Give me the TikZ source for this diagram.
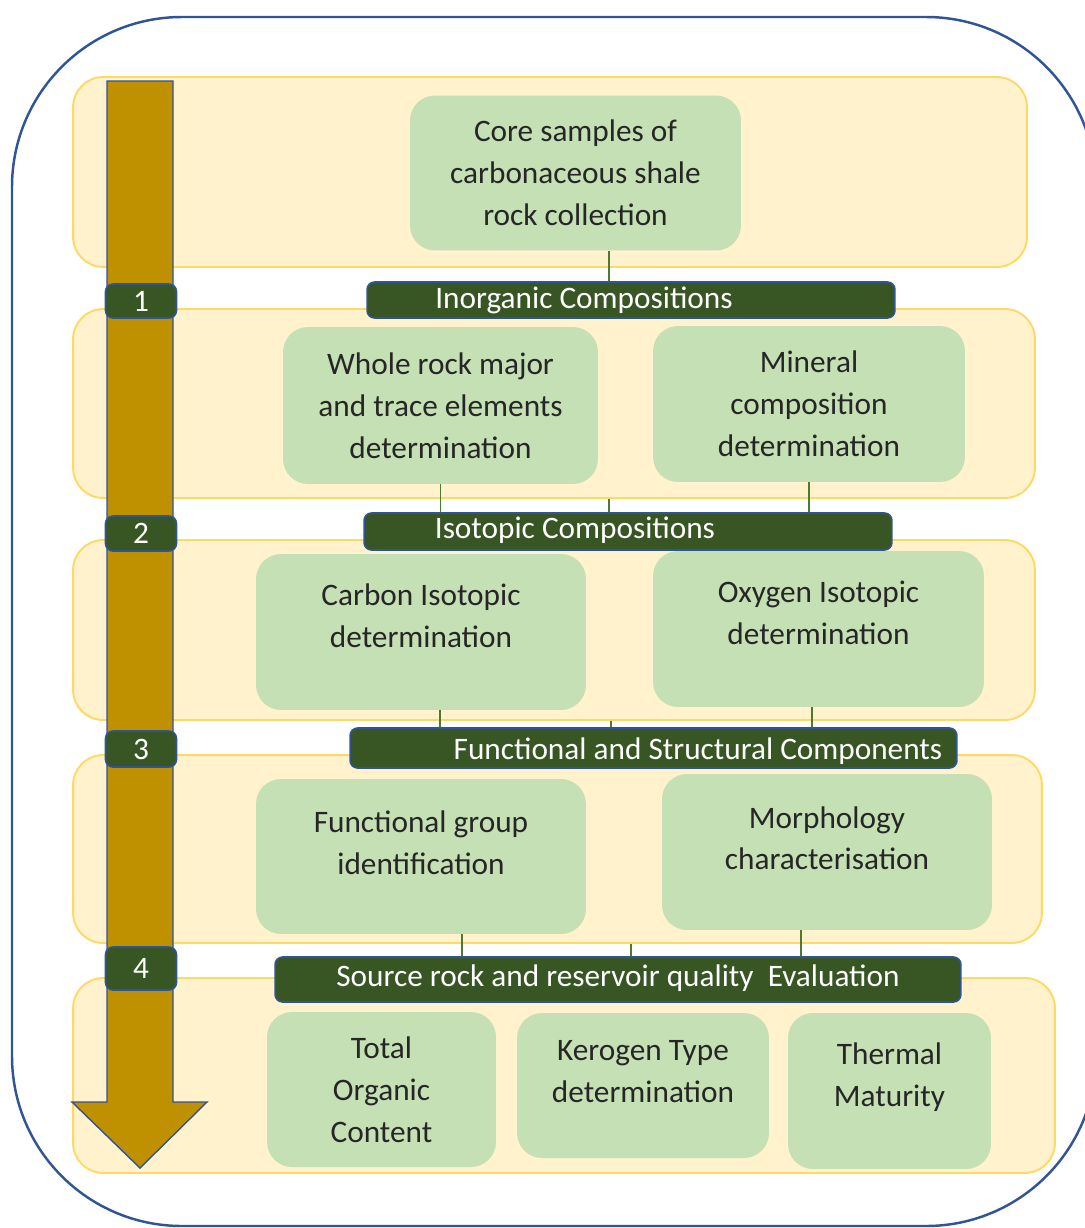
\documentclass[tikz,border=0pt]{standalone}
\usepackage{fontspec}
\setmainfont{Carlito}
\usepackage{tikz}
\usetikzlibrary{positioning}
\definecolor{bandfill}{HTML}{FFF2CC}
\definecolor{bandline}{HTML}{FFD966}
\definecolor{boxgreen}{HTML}{C5E0B4}
\definecolor{darkgreen}{HTML}{375623}
\definecolor{linegreen}{HTML}{4E7A30}
\definecolor{frameblue}{HTML}{2F5597}
\definecolor{ochre}{HTML}{BF9000}

\begin{document}
\begin{tikzpicture}[x=0.02cm, y=-0.02cm,
    band/.style={draw=bandline, fill=bandfill, line width=1.1pt, rounded corners=0.6cm, inner sep=0pt},
    gbox/.style={fill=boxgreen, rounded corners=0.5cm, inner sep=0pt, align=center,
        text=black!85, font=\fontsize{17.8}{23.8}\selectfont},
    hdr/.style={draw=frameblue, fill=darkgreen, line width=0.9pt, rounded corners=0.15cm, inner sep=0pt},
    htxt/.style={text=white, inner sep=0pt, font=\fontsize{17.8}{23.8}\selectfont},
    num/.style={hdr, minimum width=1.42cm, text=white, font=\fontsize{17.8}{23.8}\selectfont},
    link/.style={draw=linegreen, line width=1pt}]
    \path[use as bounding box, clip] (0,0) rectangle (1085,1228);
    % --- Outer frame ---
    \draw[frameblue, line width=1.4pt, rounded corners=3.4cm] (12,17) rectangle (1096,1226);
    % --- Bands ---
    \node[band, minimum width=19.08cm, minimum height=3.8cm] (b1) at (550,172) {};
    \node[band, minimum width=19.24cm, minimum height=3.78cm] (b2) at (554,403.5) {};
    \node[band, minimum width=19.24cm, minimum height=3.6cm] (b3) at (554,630) {};
    \node[band, minimum width=19.38cm, minimum height=3.76cm] (b4) at (557.5,849) {};
    \node[band, minimum width=19.64cm, minimum height=3.9cm] (b5) at (564,1075.5) {};
    % --- Boxes ---
    \node[gbox, minimum width=6.62cm, minimum height=3.1cm] (core) at (575.5,173)
        {Core samples of\\carbonaceous shale\\rock collection};
    \node[gbox, minimum width=6.3cm, minimum height=3.14cm] (whole) at (440.5,405.5)
        {Whole rock major\\and trace elements\\determination};
    \node[gbox, minimum width=6.24cm, minimum height=3.12cm] (mineral) at (809,404)
        {Mineral\\composition\\determination};
    \node[gbox, minimum width=6.6cm, minimum height=3.12cm] (carbon) at (421,632)
        {Carbon Isotopic\\determination\\[-5pt]\mbox{}};
    \node[gbox, minimum width=6.62cm, minimum height=3.12cm] (oxygen) at (818.5,629)
        {Oxygen Isotopic\\determination\\[-5pt]\mbox{}};
    \node[gbox, minimum width=6.6cm, minimum height=3.1cm] (fgroup) at (421,856.5)
        {Functional group\\identification\\[-8pt]\mbox{}};
    \node[gbox, minimum width=6.6cm, minimum height=3.12cm] (morph) at (827,852)
        {Morphology\\characterisation\\[-8pt]\mbox{}};
    \node[gbox, minimum width=4.58cm, minimum height=3.1cm] (toc) at (381.5,1089.5)
        {Total\\Organic\\Content};
    \node[gbox, minimum width=5.04cm, minimum height=2.9cm] (kerogen) at (643,1085.5)
        {Kerogen Type\\determination\\[-8pt]\mbox{}};
    \node[gbox, minimum width=4.06cm, minimum height=3.12cm] (thermal) at (889.5,1091)
        {Thermal\\Maturity\\[-5pt]\mbox{}};
    % --- Headers ---
    \node[hdr, minimum width=10.56cm, minimum height=0.72cm] (inorg) at (631,300) {};
    \node[htxt] (inorg-t) at (584,300) {Inorganic Compositions};
    \node[hdr, minimum width=10.56cm, minimum height=0.74cm] (iso) at (628,531.5) {};
    \node[htxt] (iso-t) at (575,530) {Isotopic Compositions};
    \node[hdr, minimum width=12.14cm, minimum height=0.8cm] (func) at (653.5,748) {};
    \node[htxt] (func-t) at (698,751) {Functional and Structural Components};
    \node[hdr, minimum width=13.72cm, minimum height=0.9cm] (src) at (618,979.5) {};
    \node[htxt] (src-t) at (618,978) {Source rock and reservoir quality\ \ Evaluation};
    % --- Links ---
    \coordinate (k1) at (609,0);
    \coordinate (k2) at (609,0);
    \coordinate (k3) at (440,0);
    \coordinate (k4) at (611,0);
    \coordinate (k5) at (812,0);
    \coordinate (k6) at (462,0);
    \coordinate (k7) at (631,0);
    \coordinate (k8) at (801,0);
    \draw[link] (core.south -| k1) -- (inorg.north -| k1);
    \draw[link] (whole.south) -- (iso.north -| whole.south);
    \draw[link] (b2.south -| k2) -- (iso.north -| k2);
    \draw[link] (mineral.south) -- (iso.north -| mineral.south);
    \draw[link] (carbon.south -| k3) -- (func.north -| k3);
    \draw[link] (b3.south -| k4) -- (func.north -| k4);
    \draw[link] (oxygen.south -| k5) -- (func.north -| k5);
    \draw[link] (fgroup.south -| k6) -- (src.north -| k6);
    \draw[link] (b4.south -| k7) -- (src.north -| k7);
    \draw[link] (morph.south -| k8) -- (src.north -| k8);
    % --- Arrow ---
    \draw[fill=ochre, draw=frameblue, line width=0.8pt]
        (107,81) -- (173,81) -- (173,1102) -- (207,1102) -- (140,1168)
        -- (72,1102) -- (107,1102) -- cycle;
    % --- Steps ---
    \foreach \n/\y/\h in {1/301/0.68, 2/533.5/0.7, 3/749/0.72, 4/968.5/0.86} {
        \node[num, minimum height=\h cm] (num\n) at (141,\y) {\n};
    }
\end{tikzpicture}
\end{document}
